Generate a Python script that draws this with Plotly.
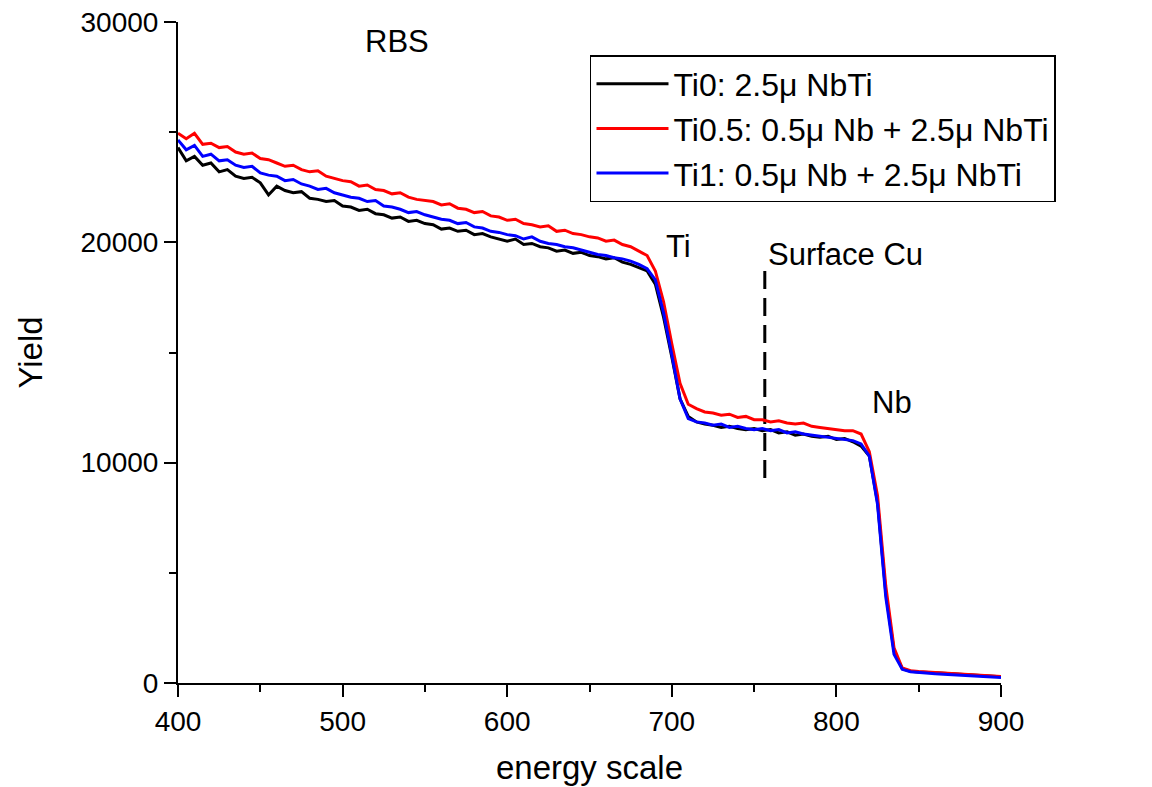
import plotly.graph_objects as go

# Energy channels (x) in steps of 5
energy = list(range(400, 905, 5))

ti0 = [24300, 23700, 23900, 23500, 23600, 23200, 23300, 23000, 22900, 22950,
       22700, 22150, 22550, 22350, 22250, 22300, 22000, 21950, 21850, 21900,
       21650, 21600, 21450, 21500, 21300, 21250, 21100, 21150, 20950, 21000,
       20850, 20800, 20600, 20650, 20500, 20550, 20350, 20400, 20250, 20150,
       20050, 20150, 19900, 19950, 19800, 19750, 19600, 19650, 19500, 19550,
       19400, 19350, 19250, 19300, 19100, 19000, 18850, 18700, 18100, 16600,
       14800, 12900, 12100, 11850, 11750, 11700, 11600, 11650, 11550, 11500,
       11550, 11450, 11500, 11350, 11400, 11250, 11300, 11200, 11150, 11200,
       11050, 11100, 10950, 10750, 10300, 8200, 4100, 1450, 650, 530,
       500, 470, 460, 440, 420, 400, 370, 350, 330, 310,
       280]

ti05 = [24950, 24700, 24950, 24450, 24500, 24300, 24350, 24100, 24000, 24050,
        23800, 23750, 23600, 23450, 23500, 23300, 23200, 23250, 23000, 22900,
        22800, 22750, 22550, 22600, 22400, 22350, 22200, 22250, 22050, 21950,
        21900, 21850, 21700, 21750, 21550, 21500, 21350, 21400, 21200, 21150,
        21000, 21050, 20850, 20800, 20700, 20750, 20500, 20550, 20400, 20350,
        20250, 20200, 20050, 20100, 19900, 19800, 19600, 19400, 18700, 17300,
        15400, 13600, 12650, 12450, 12300, 12250, 12150, 12200, 12050, 12100,
        11950, 11950, 11850, 11900, 11800, 11750, 11800, 11650, 11600, 11550,
        11500, 11450, 11450, 11300, 10500, 8500, 4400, 1600, 680, 560,
        520, 490, 470, 450, 430, 410, 390, 370, 350, 330,
        300]

ti1 = [24650, 24200, 24400, 23900, 24000, 23700, 23750, 23500, 23400, 23450,
       23150, 23050, 23000, 22800, 22850, 22650, 22550, 22400, 22450, 22250,
       22150, 22050, 22000, 21850, 21900, 21650, 21600, 21500, 21350, 21400,
       21250, 21150, 21050, 21000, 20850, 20900, 20700, 20650, 20500, 20450,
       20350, 20300, 20150, 20250, 20050, 19950, 19900, 19800, 19750, 19650,
       19550, 19450, 19400, 19300, 19250, 19150, 19000, 18800, 18300, 16800,
       14900, 12900, 12000, 11850, 11800, 11700, 11750, 11600, 11650, 11550,
       11500, 11550, 11450, 11500, 11350, 11400, 11300, 11250, 11200, 11150,
       11100, 11050, 11000, 10850, 10300, 8100, 3900, 1300, 620, 510,
       470, 440, 420, 400, 380, 360, 340, 320, 300, 280,
       250]

series_names = ["Ti0: 2.5\u03bc NbTi",
                "Ti0.5: 0.5\u03bc Nb + 2.5\u03bc NbTi",
                "Ti1: 0.5\u03bc Nb + 2.5\u03bc NbTi"]
series_colors = ["#000000", "#ff0000", "#0000ff"]

# Surface Cu marker line
cu_x = [756.5, 756.5]
cu_y = [9300, 18800]

# Text labels: (text, x, y, anchor)
labels = [("RBS", 533, 29100, "center"),
          ("Ti", 704, 19800, "center"),
          ("Surface Cu", 757, 19450, "left"),
          ("Nb", 834, 12750, "center")]

FONT = "Liberation Sans, Arial, sans-serif"

fig = go.Figure()
fig.add_trace(go.Scatter(x=cu_x, y=cu_y, mode="lines", showlegend=False,
                         line=dict(color="black", width=3, dash="18px,9px")))
for name, ys, col in zip(series_names, [ti0, ti05, ti1], series_colors):
    fig.add_trace(go.Scatter(x=energy, y=ys, mode="lines", name=name,
                             line=dict(color=col, width=3)))

for text, x, y, anc in labels:
    fig.add_annotation(x=x, y=y, text=text, showarrow=False, xanchor=anc,
                       yanchor="middle", font=dict(size=31, color="black", family=FONT))

fig.update_layout(
    width=1152, height=787,
    margin=dict(l=170, r=159, t=14, b=112),
    paper_bgcolor="white", plot_bgcolor="white",
    font=dict(family=FONT, color="black", size=28),
    legend=dict(x=0.5006, y=0.95, xanchor="left", yanchor="top",
                bordercolor="black", borderwidth=1.5, bgcolor="white",
                font=dict(size=32, family=FONT), itemwidth=72,
                tracegroupgap=0),
    xaxis=dict(range=[400, 900], dtick=100, tick0=400, showgrid=False, zeroline=False,
               showline=True, linecolor="black", linewidth=2, automargin=False,
               ticks="outside", ticklen=12, tickwidth=2, tickcolor="black",
               tickfont=dict(size=28), ticklabeloverflow="allow",
               minor=dict(dtick=50, tick0=400, ticks="outside", ticklen=7, tickwidth=2,
                          tickcolor="black", showgrid=False),
               title=dict(text="energy scale", font=dict(size=33), standoff=20)),
    yaxis=dict(range=[0, 30000], dtick=10000, tick0=0, showgrid=False, zeroline=False,
               showline=True, linecolor="black", linewidth=2, automargin=False,
               ticks="outside", ticklen=12, tickwidth=2, tickcolor="black",
               tickfont=dict(size=28), tickformat="d", ticklabeloverflow="allow",
               minor=dict(dtick=5000, tick0=0, ticks="outside", ticklen=7, tickwidth=2,
                          tickcolor="black", showgrid=False),
               title=dict(text="Yield", font=dict(size=33), standoff=28)),
)

fig.write_html("out.html")
